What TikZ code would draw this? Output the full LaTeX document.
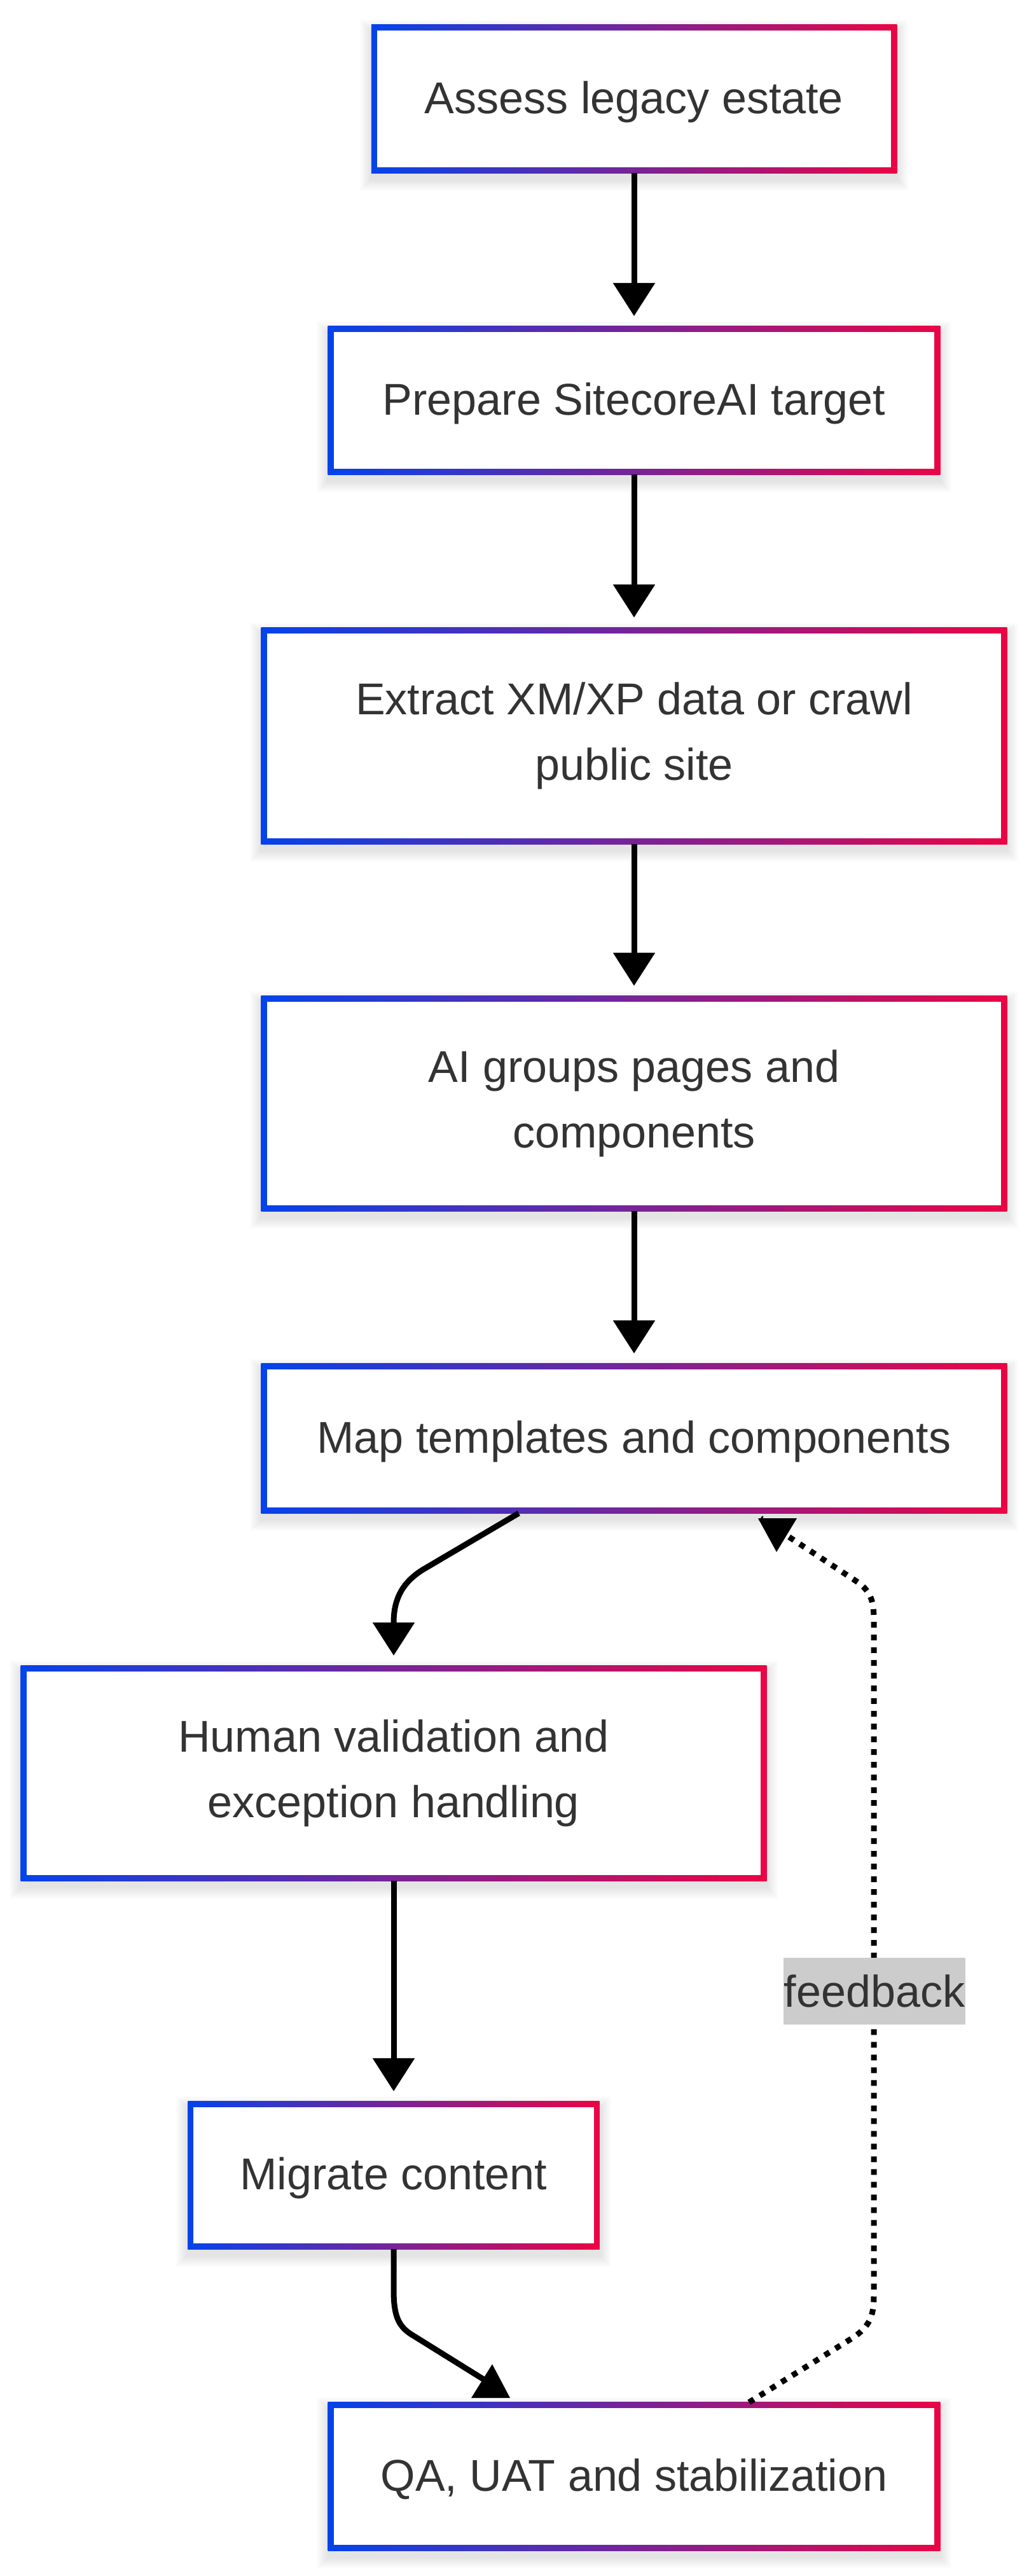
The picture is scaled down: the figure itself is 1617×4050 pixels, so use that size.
\documentclass[tikz,border=0pt]{standalone}
\usepackage{fontspec}
\setmainfont{Liberation Sans}
\usetikzlibrary{arrows.meta,calc}
\definecolor{gL}{HTML}{0443EB}
\definecolor{gR}{HTML}{EB0445}
\definecolor{txt}{HTML}{333333}
\definecolor{lbl}{HTML}{CCCCCC}
\pgfdeclarelayer{background}
\pgfsetlayers{background,main}
\newcommand{\gradbox}[1]{%
  \begin{pgfonlayer}{background}
    \foreach \rr in {2,4,...,18}{%
      \fill[black,opacity=0.012] ($(#1.south west)+(-\rr,\rr+10)$) rectangle ($(#1.north east)+(\rr,-\rr+10)$);
    }
    \shade[left color=gL,right color=gR] (#1.south west) rectangle (#1.north east);
    \fill[white] ($(#1.south west)+(9,-9)$) rectangle ($(#1.north east)+(-9,9)$);
  \end{pgfonlayer}%
}
\begin{document}
\begin{tikzpicture}[x=0.01cm,y=-0.01cm,
  box/.style={inner sep=0pt, outer sep=0pt, align=center, text=txt,
    font=\fontsize{19.92pt}{29.3pt}\selectfont},
  oneline/.style={text height=0.60cm, text depth=0.15cm},
  flow/.style={line width=0.09cm, -{Triangle[length=0.52cm,width=0.64cm]}},
  plainline/.style={line width=0.09cm},
  fbline/.style={line width=0.09cm, dash pattern=on 0.09cm off 0.11cm},
  lblbox/.style={fill=lbl, text=txt, inner xsep=0pt, inner ysep=0pt,
    minimum height=1.05cm, minimum width=2.85cm,
    font=\fontsize{19.92pt}{29.3pt}\selectfont}]
\begin{pgfonlayer}{background}
  \fill[white] (0,0) rectangle (1617,4050);
\end{pgfonlayer}
\useasboundingbox (0,0) rectangle (1617,4050);

% nodes
\node[box, oneline, minimum width=8.26cm, minimum height=2.33cm] (b1) at (997,155.5) {Assess legacy estate};
\node[box, oneline, minimum width=9.62cm, minimum height=2.33cm] (b2) at (997,629.5) {Prepare SitecoreAI target};
\node[box, minimum width=11.72cm, minimum height=3.40cm] (b3) at (997,1157) {Extract XM/XP data or crawl\\public site};
\node[box, minimum width=11.72cm, minimum height=3.38cm] (b4) at (997,1735) {AI groups pages and\\components};
\node[box, oneline, minimum width=11.72cm, minimum height=2.35cm] (b5) at (997,2261.5) {Map templates and components};
\node[box, minimum width=11.72cm, minimum height=3.38cm] (b6) at (619,2788) {Human validation and\\exception handling};
\node[box, oneline, minimum width=6.47cm, minimum height=2.32cm] (b7) at (619,3420) {Migrate content};
\node[box, oneline, minimum width=9.62cm, minimum height=2.33cm] (b8) at (997,3893.5) {QA, UAT and stabilization};

\gradbox{b1}\gradbox{b2}\gradbox{b3}\gradbox{b4}
\gradbox{b5}\gradbox{b6}\gradbox{b7}\gradbox{b8}

% straight connectors
\draw[flow] (b1.south) -- ($(b2.north)+(0,-16)$);
\draw[flow] (b2.south) -- ($(b3.north)+(0,-16)$);
\draw[flow] (b3.south) -- ($(b4.north)+(0,-16)$);
\draw[flow] (b4.south) -- ($(b5.north)+(0,-16)$);
\draw[flow] (b6.south) -- ($(b7.north)+(0,-16)$);

% curved connector b5 -> b6
\coordinate (s56) at ($(b5.south west)+(405,0)$);
\coordinate (t56) at ($(b6.north)+(0,-16)$);
\draw[flow] (s56) -- (668,2466) .. controls (632,2487) and (619,2515) .. (619,2551) -- (t56);

% curved connector b7 -> b8
\coordinate (t78) at (772,3748);
\draw[plainline] (b7.south) -- (619,3600) .. controls (619,3640) and (626,3656) .. (645,3669) -- (t78);
\fill (774,3717) -- (741,3770) -- (802,3770) -- cycle;

% feedback b8 -> b5
\coordinate (fbS) at ($(b8.north west)+(662,0)$);
\coordinate (fbE) at (1196,2387);
\draw[fbline] (fbS) -- (1340,3676) .. controls (1368,3658) and (1374,3640) .. (1374,3610)
  -- (1374,2545) .. controls (1374,2515) and (1368,2500) .. (1345,2485) -- (fbE);
\fill (1192,2387) -- (1253,2387) -- (1221,2440) -- cycle;
\node[lblbox] (fb) at (1375,3130) {feedback};
\end{tikzpicture}
\end{document}
